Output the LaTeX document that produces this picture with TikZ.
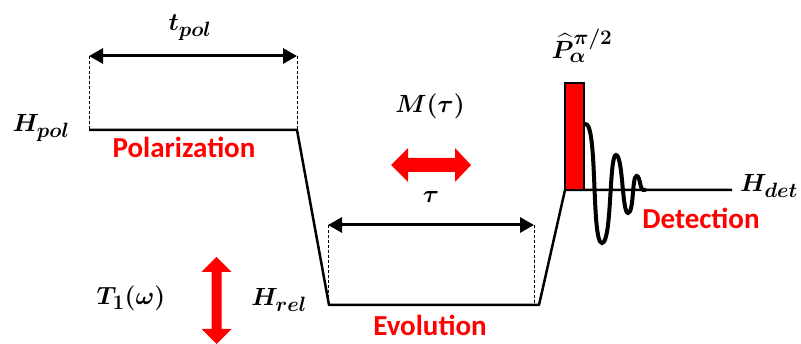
\documentclass[tikz,border=0pt]{standalone}
\usepackage{amsmath}
\usepackage{bm}
\usepackage{fontspec}
\newfontfamily\lblfont{Carlito}
\usetikzlibrary{arrows.meta}
\definecolor{myred}{RGB}{255,0,0}
\DeclareMathSizes{27}{27}{21}{16}
\tikzset{
  mth/.style={font=\fontsize{27}{31}\selectfont, inner sep=0pt},
  stage/.style={font=\lblfont\bfseries\fontsize{29}{33}\selectfont, text=myred, inner sep=0pt},
  level/.style={line width=2.5pt},
  guide/.style={densely dashed, line width=0.8pt},
  dimarrow/.style={line width=3pt, {Triangle[length=14pt,width=15pt]}-{Triangle[length=14pt,width=15pt]}},
  redarrow/.style={fill=myred, draw=none},
}
\begin{document}
\begin{tikzpicture}[x=1pt,y=-1pt]
\useasboundingbox (0,0) rectangle (801,344);
% level coordinates
\coordinate (p1) at (89,130);
\coordinate (p2) at (297,130);
\coordinate (e1) at (329,305);
\coordinate (e2) at (539,305);
\coordinate (d1) at (565,190);
\coordinate (d2) at (732,190);
% levels
\draw[level, line join=round] (p1) -- (p2) -- (e1) -- (e2) -- (d1) -- (d2);
% pulse
\draw[line width=2pt, fill=myred] (565,83) rectangle (584,190);
% FID wave
\draw[line width=4pt, line cap=round]
  (585,124) .. controls (598,121) and (591,243) .. (602,243)
  .. controls (612,243) and (609,155) .. (616,155)
  .. controls (623,155) and (622,213) .. (628,213)
  .. controls (634,213) and (632,176) .. (636.5,176)
  .. controls (641,176) and (639,192) .. (645,190);
% t_pol dimension
\coordinate (tp1) at (89,56);
\coordinate (tp2) at (297,56);
\draw[guide] (tp1) -- (p1);
\draw[guide] (tp2) -- (p2);
\draw[dimarrow] (tp1) -- (tp2);
% tau dimension
\coordinate (ta1) at (328,225);
\coordinate (ta2) at (534,225);
\coordinate (tb1) at (328,305);
\coordinate (tb2) at (534,305);
\draw[guide] (ta1) -- (tb1);
\draw[guide] (ta2) -- (tb2);
\draw[dimarrow] (ta1) -- (ta2);
% red double arrows
\fill[redarrow] (391,165) -- (408,148) -- (408,158) -- (455,158) -- (455,148) -- (471,165)
  -- (455,182) -- (455,172) -- (408,172) -- (408,182) -- cycle;
\fill[redarrow] (216.5,257) -- (231.5,272) -- (221.5,272) -- (221.5,329) -- (231.5,329) -- (216.5,344)
  -- (201.5,329) -- (211.5,329) -- (211.5,272) -- (201.5,272) -- cycle;
% labels
\node[mth] (tpol) at (190,28) {$\bm{t_{pol}}$};
\node[mth] (hpol) at (41,128) {$\bm{H_{pol}}$};
\node[mth] (mtau) at (430,106) {$\bm{M(\tau)}$};
\node[mth] (tau) at (431,197) {$\bm{\tau}$};
\node[mth] (t1) at (131,298) {$\bm{T_1(\omega)}$};
\node[mth] (hrel) at (279,300) {$\bm{H_{rel}}$};
\node[mth, anchor=east] (hdet) at (798,186) {$\bm{H_{det}}$};
\node[mth] (pulse) at (582,46) {$\bm{\widehat{P}_{\alpha}^{\pi/2}}$};
\node[stage] (pol) at (184,147) {Polarization};
\node[stage] (evo) at (430,325) {Evolution};
\node[stage] (det) at (701,218) {Detection};
\end{tikzpicture}
\end{document}
